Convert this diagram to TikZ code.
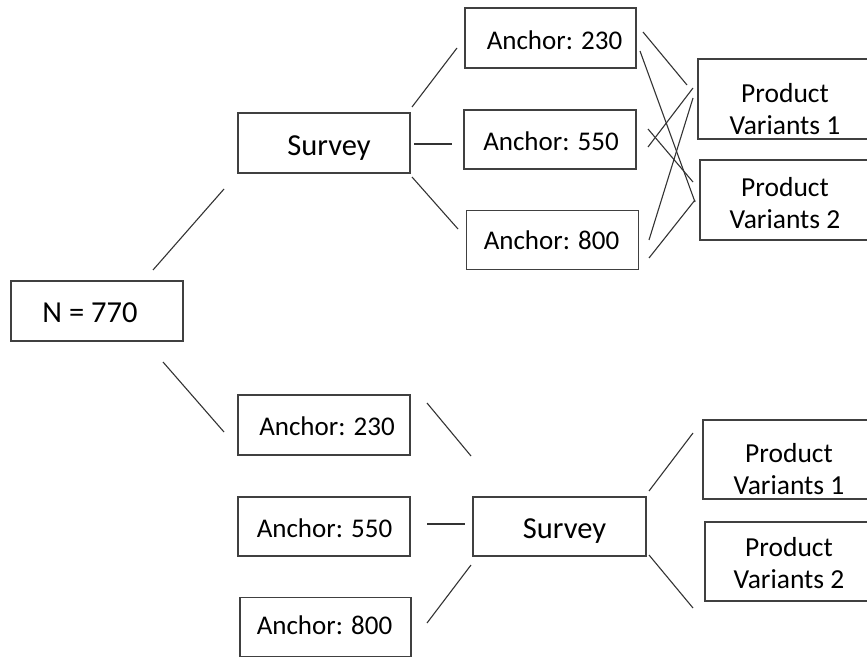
\documentclass[tikz,border=0pt]{standalone}
\usepackage{fontspec}
\setmainfont{Carlito}
\begin{document}
\begin{tikzpicture}[x=1pt,y=-1pt,
  box/.style={draw=black!75, line width=1.3pt, fill=white, inner sep=0pt},
  txt/.style={inner sep=0pt, align=center, font=\fontsize{27}{32}\selectfont},
  ptxt/.style={txt, font=\fontsize{27.5}{32}\selectfont},
  bigtxt/.style={txt, font=\fontsize{30.5}{34}\selectfont},
  link/.style={draw=black!80, line width=1.1pt}]
\useasboundingbox (0,0) rectangle (867,658);
\clip (0,0) rectangle (867,658);
% boxes
\node[box, minimum width=172pt, minimum height=60pt] (n) at (97,311) {};
\node[box, minimum width=172pt, minimum height=60pt] (s1) at (324,143) {};
\node[box, minimum width=171pt, minimum height=60pt] (a1) at (550.5,38) {};
\node[box, minimum width=172pt, minimum height=59pt] (a2) at (550,139.5) {};
\node[box, minimum width=172pt, minimum height=59pt] (a3) at (552.5,240) {};
\node[box, minimum width=172pt, minimum height=80pt] (p1) at (784,99) {};
\node[box, minimum width=170pt, minimum height=80pt] (p2) at (785,200) {};
\node[box, minimum width=172pt, minimum height=60pt] (b1) at (324,425) {};
\node[box, minimum width=172pt, minimum height=59pt] (b2) at (324,526.5) {};
\node[box, minimum width=171pt, minimum height=59pt] (b3) at (325.5,627) {};
\node[box, minimum width=173pt, minimum height=59pt] (s2) at (559.5,526.5) {};
\node[box, minimum width=168pt, minimum height=79pt] (q1) at (787,459.5) {};
\node[box, minimum width=166pt, minimum height=79pt] (q2) at (788,561.5) {};
% texts
\node[bigtxt] (nt) at ([xshift=-7pt,yshift=-2pt]n.center) {N = 770};
\node[bigtxt] (s1t) at ([xshift=5pt,yshift=-5pt]s1.center) {Survey};
\node[txt] (a1t) at ([xshift=4pt,yshift=-2pt]a1.center) {Anchor: 230};
\node[txt] (a2t) at ([xshift=1pt,yshift=-2pt]a2.center) {Anchor: 550};
\node[txt] (a3t) at ([xshift=-1pt]a3.center) {Anchor: 800};
\node[ptxt] (p1t) at ([xshift=1pt,yshift=-10pt]p1.center) {Product\\Variants 1};
\node[ptxt] (p2t) at ([yshift=-3pt]p2.center) {Product\\Variants 2};
\node[txt] (b1t) at ([xshift=3pt,yshift=-1pt]b1.center) {Anchor: 230};
\node[txt] (b2t) at ([xshift=0.5pt,yshift=-2pt]b2.center) {Anchor: 550};
\node[txt] (b3t) at ([xshift=-1pt,yshift=2pt]b3.center) {Anchor: 800};
\node[bigtxt] (s2t) at ([xshift=5pt,yshift=-5pt]s2.center) {Survey};
\node[ptxt] (q1t) at ([xshift=2pt,yshift=-10pt]q1.center) {Product\\Variants 1};
\node[ptxt] (q2t) at ([xshift=1pt,yshift=-2pt]q2.center) {Product\\Variants 2};
% connector end points
\coordinate (ns1a) at (153,270); \coordinate (ns1b) at (224,189);
\coordinate (nb1a) at (163,362); \coordinate (nb1b) at (224,432);
\coordinate (sa1a) at (412,107); \coordinate (sa1b) at (457,48);
\coordinate (sa2a) at (414,144); \coordinate (sa2b) at (452,144);
\coordinate (sa3a) at (412,177); \coordinate (sa3b) at (458,229);
\coordinate (a1p1a) at (643,32); \coordinate (a1p1b) at (687,85);
\coordinate (a1p2a) at (640,51); \coordinate (a1p2b) at (695,202);
\coordinate (a2p1a) at (648,147); \coordinate (a2p1b) at (693,88);
\coordinate (a2p2a) at (648,129); \coordinate (a2p2b) at (693,182);
\coordinate (a3p1a) at (649,240); \coordinate (a3p1b) at (693,98);
\coordinate (a3p2a) at (649,258); \coordinate (a3p2b) at (695,200);
\coordinate (b1sa) at (427,403); \coordinate (b1sb) at (471,456);
\coordinate (b2sa) at (427,524); \coordinate (b2sb) at (465,524);
\coordinate (b3sa) at (427,623); \coordinate (b3sb) at (471,565);
\coordinate (sq1a) at (649,491); \coordinate (sq1b) at (693,433);
\coordinate (sq2a) at (649,555); \coordinate (sq2b) at (693,608);
% connectors
\draw[link] (ns1a) -- (ns1b);
\draw[link] (nb1a) -- (nb1b);
\draw[link] (sa1a) -- (sa1b);
\draw[link] (sa2a) -- (sa2b);
\draw[link] (sa3a) -- (sa3b);
\draw[link] (a1p1a) -- (a1p1b);
\draw[link] (a1p2a) -- (a1p2b);
\draw[link] (a2p1a) -- (a2p1b);
\draw[link] (a2p2a) -- (a2p2b);
\draw[link] (a3p1a) -- (a3p1b);
\draw[link] (a3p2a) -- (a3p2b);
\draw[link] (b1sa) -- (b1sb);
\draw[link] (b2sa) -- (b2sb);
\draw[link] (b3sa) -- (b3sb);
\draw[link] (sq1a) -- (sq1b);
\draw[link] (sq2a) -- (sq2b);
\end{tikzpicture}
\end{document}
